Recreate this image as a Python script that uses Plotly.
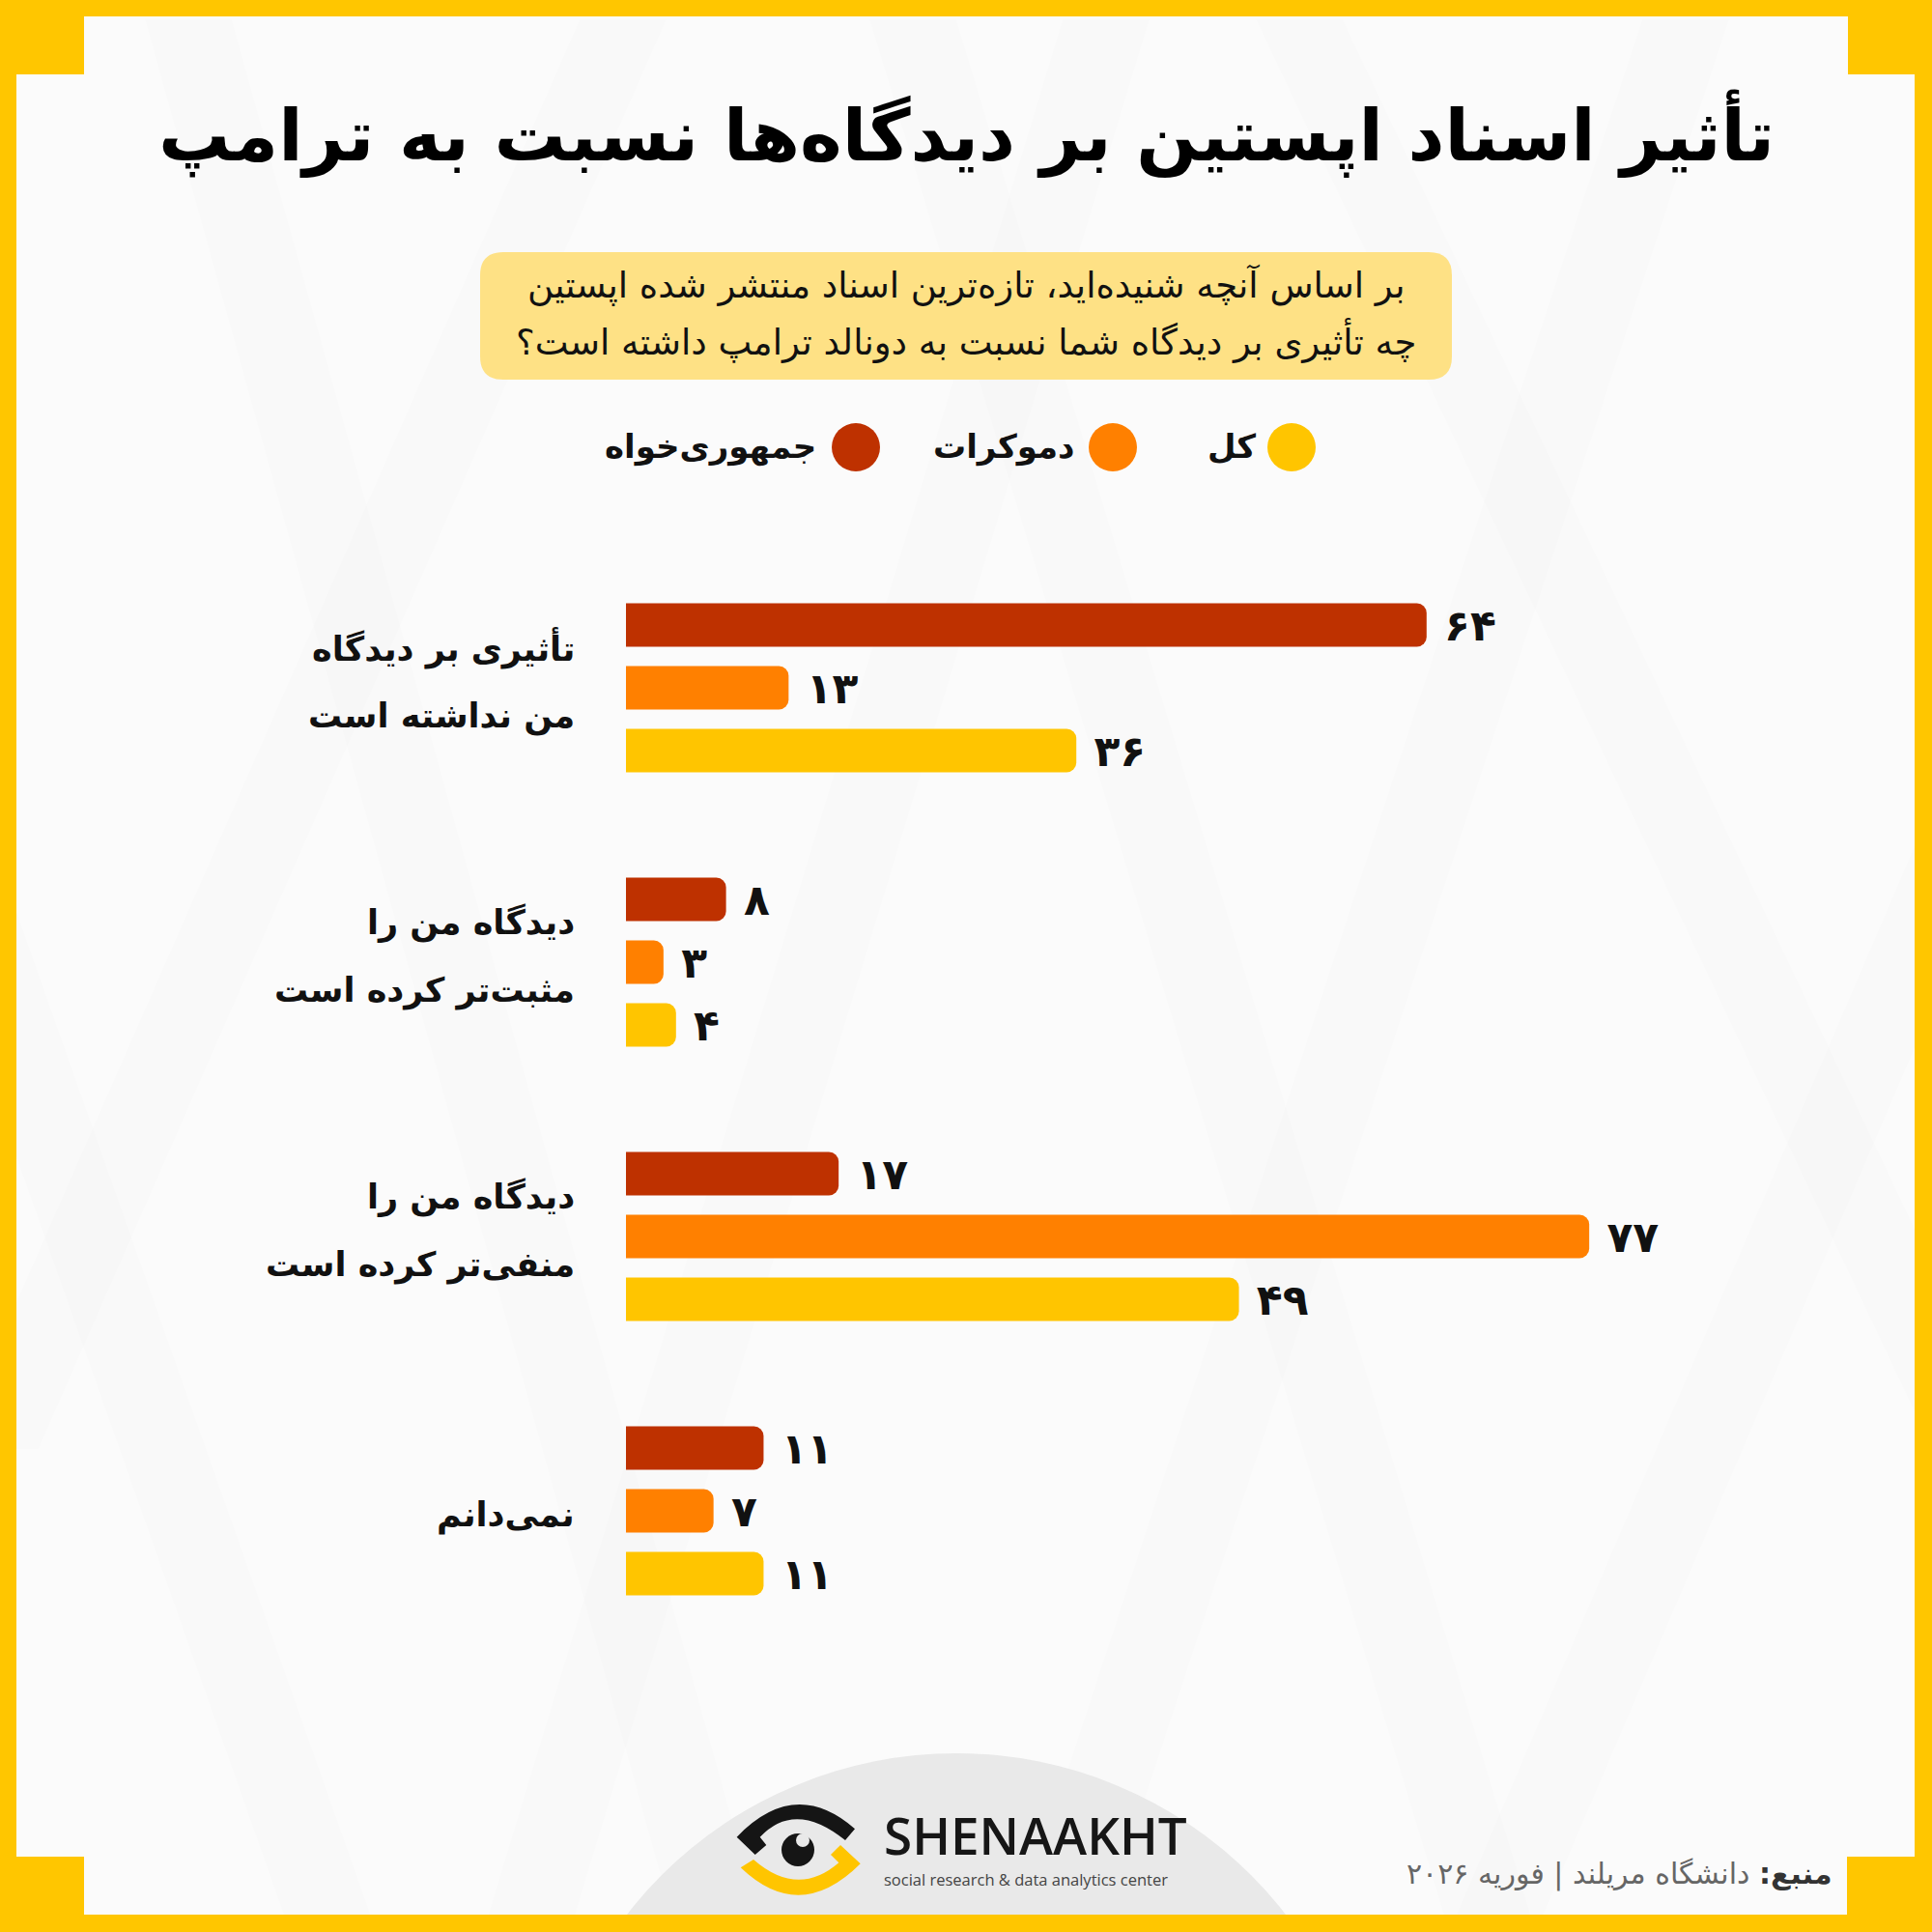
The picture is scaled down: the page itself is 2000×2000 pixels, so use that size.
import plotly.graph_objects as go

# ---------------- data ----------------
categories = [
    "تأثیری بر دیدگاه<br>من نداشته است",
    "دیدگاه من را<br>مثبت‌تر کرده است",
    "دیدگاه من را<br>منفی‌تر کرده است",
    "نمی‌دانم",
]
republicans = [64, 8, 17, 11]
democrats = [13, 3, 77, 7]
total = [36, 4, 49, 11]
series_names = ["جمهوری‌خواه", "دموکرات", "کل"]

title_text = "تأثیر اسناد اپستین بر دیدگاه‌ها نسبت به ترامپ"
question_lines = [
    "بر اساس آنچه شنیده‌اید، تازه‌ترین اسناد منتشر شده اپستین",
    "چه تأثیری بر دیدگاه شما نسبت به دونالد ترامپ داشته است؟",
]
source_bold = "منبع:"
source_rest = "دانشگاه مریلند | فوریه ۲۰۲۶"

# ---------------- style ----------------
RED = "#BE3100"
ORANGE = "#FF8000"
YELLOW = "#FFC500"
FRAME = "#FFC600"
BG = "#FBFBFB"
FA_FONT = "DejaVu Sans"

W = H = 2000
PL, PR, PT, PB = 648, 1900, 570, 1706


def px(x):
    return (x - PL) / (PR - PL)


def py(y):
    return (PB - y) / (PB - PT)


def fa_digits(n):
    return str(n).translate(str.maketrans("0123456789", "۰۱۲۳۴۵۶۷۸۹"))


fig = go.Figure()
for vals, col, nm in zip([republicans, democrats, total], [RED, ORANGE, YELLOW], series_names):
    fig.add_trace(go.Bar(
        y=categories, x=vals, orientation="h", name=nm,
        marker=dict(color=col, cornerradius=10, line=dict(width=0)),
        text=["\u00a0" + fa_digits(v) for v in vals],
        textposition="outside", textangle=0, constraintext="none",
        textfont=dict(family=FA_FONT, size=44, color="#111111", weight="bold"),
        cliponaxis=False, showlegend=False, hoverinfo="skip",
    ))

shapes = []


def rect(x0, y0, x1, y1, color, layer="above"):
    shapes.append(dict(type="rect", xref="paper", yref="paper",
                       x0=px(x0), x1=px(x1), y0=py(y1), y1=py(y0),
                       fillcolor=color, line=dict(width=0), layer=layer))


def poly(points, color, layer="below"):
    d = "M " + " L ".join(f"{px(x):.5f},{py(y):.5f}" for x, y in points) + " Z"
    shapes.append(dict(type="path", xref="paper", yref="paper", path=d,
                       fillcolor=color, line=dict(width=0), layer=layer))


# faint diagonal background bands
band = "rgba(0,0,0,0.009)"
for (xa, ya, xb, yb) in [(150, 20, 700, 2000), (-300, 300, 300, 2000), (900, 20, 1500, 2000),
                         (1300, 20, 2000, 1500)]:
    w = 90
    poly([(xa, ya), (xa + w, ya), (xb + w, yb), (xb, yb)], band)
for (xa, ya, xb, yb) in [(1100, 20, 500, 2000), (1700, 20, 1050, 2000), (600, 20, -50, 1500),
                         (2100, 600, 1500, 2000)]:
    w = 90
    poly([(xa, ya), (xa + w, ya), (xb + w, yb), (xb, yb)], band)

# grey dome behind logo
cx, cy, r = 990, 2247, 432
shapes.append(dict(type="circle", xref="paper", yref="paper",
                   x0=px(cx - r), x1=px(cx + r), y0=py(cy + r), y1=py(cy - r),
                   fillcolor="#E9E9E9", line=dict(width=0), layer="below"))

# question box
shapes.append(dict(type="path", xref="paper", yref="paper", layer="below",
                   fillcolor="#FEE185", line=dict(width=0),
                   path=(lambda x0, y0, x1, y1, rr: (
                       f"M {px(x0+rr)},{py(y0)} L {px(x1-rr)},{py(y0)} "
                       f"Q {px(x1)},{py(y0)} {px(x1)},{py(y0+rr)} L {px(x1)},{py(y1-rr)} "
                       f"Q {px(x1)},{py(y1)} {px(x1-rr)},{py(y1)} L {px(x0+rr)},{py(y1)} "
                       f"Q {px(x0)},{py(y1)} {px(x0)},{py(y1-rr)} L {px(x0)},{py(y0+rr)} "
                       f"Q {px(x0)},{py(y0)} {px(x0+rr)},{py(y0)} Z"))(497, 261, 1503, 393, 24)))

# frame
rect(0, 0, 2000, 17, FRAME)
rect(0, 1982, 2000, 2000, FRAME)
rect(0, 0, 17, 2000, FRAME)
rect(1982, 0, 2000, 2000, FRAME)
rect(0, 0, 87, 77, FRAME)
rect(1913, 0, 2000, 77, FRAME)
rect(0, 1922, 87, 2000, FRAME)
rect(1912, 1922, 2000, 2000, FRAME)

# legend circles
for cxl, col in [(1337, YELLOW), (1152, ORANGE), (886, RED)]:
    rr = 25
    shapes.append(dict(type="circle", xref="paper", yref="paper",
                       x0=px(cxl - rr), x1=px(cxl + rr), y0=py(463 + rr), y1=py(463 - rr),
                       fillcolor=col, line=dict(width=0)))


# logo eye
def pathq(cmds, color):
    out = []
    for c in cmds:
        if c[0] in "ML":
            out.append(f"{c[0]} {px(c[1]):.5f},{py(c[2]):.5f}")
        elif c[0] == "Q":
            out.append(f"Q {px(c[1]):.5f},{py(c[2]):.5f} {px(c[3]):.5f},{py(c[4]):.5f}")
    shapes.append(dict(type="path", xref="paper", yref="paper", path=" ".join(out) + " Z",
                       fillcolor=color, line=dict(width=0)))


pathq([("M", 762.7, 1901.7), ("Q", 823, 1839, 885, 1893.3), ("L", 875, 1905),
       ("Q", 823, 1863, 786.7, 1901.7), ("L", 793.3, 1910), ("L", 781.7, 1920)], "#151515")
pathq([("M", 766.7, 1933.3), ("Q", 828, 1992, 890.7, 1929.3), ("L", 870, 1910),
       ("L", 860, 1920), ("L", 868.3, 1928.3), ("Q", 826, 1965, 780, 1925)], YELLOW)
shapes.append(dict(type="circle", xref="paper", yref="paper",
                   x0=px(826 - 17), x1=px(826 + 17), y0=py(1915 + 17), y1=py(1915 - 17),
                   fillcolor="#151515", line=dict(width=0)))
shapes.append(dict(type="circle", xref="paper", yref="paper",
                   x0=px(831 - 7), x1=px(831 + 7), y0=py(1905 + 7), y1=py(1905 - 7),
                   fillcolor="#E9E9E9", line=dict(width=0)))

annotations = []


def ann(text, x, y, size, color="#000", xanchor="center", weight="normal", family=FA_FONT, **kw):
    annotations.append(dict(text=text, x=px(x), y=py(y), xref="paper", yref="paper",
                            xanchor=xanchor, yanchor="middle", showarrow=False,
                            font=dict(family=family, size=size, color=color, weight=weight), **kw))


ann(title_text, 1000, 138, 74, weight="bold")
ann(question_lines[0], 1000, 295, 37, color="#111")
ann(question_lines[1], 1000, 353, 37, color="#111")

for txt, xr in zip(["کل", "دموکرات", "جمهوری‌خواه"], [1302, 1115, 847]):
    ann(txt, xr, 462, 34, xanchor="right", weight="bold", color="#111")

# category labels placed through the y axis
for cat in categories:
    lines = cat.split("<br>")
    shifts = [-4] if len(lines) == 1 else [41, -29]
    for ln, sh in zip(lines, shifts):
        annotations.append(dict(text=ln, x=px(597), xref="paper", y=cat, yref="y",
                                xanchor="right", yanchor="middle", yshift=sh, showarrow=False,
                                font=dict(family=FA_FONT, size=35, color="#111", weight="bold")))

ann("SHENAAKHT", 913, 1899, 53, color="#161616", xanchor="left", weight=600, family="Open Sans")
ann("social research & data analytics center", 913, 1945, 16.5, color="#444",
    xanchor="left", family="Open Sans")
ann(f"<b>{source_bold}</b> <span style='color:#666'>{source_rest}</span>", 1899, 1940, 30,
    color="#333", xanchor="right")

fig.update_layout(
    width=W, height=H,
    margin=dict(l=PL, r=W - PR, t=PT, b=H - PB, pad=0),
    paper_bgcolor=BG, plot_bgcolor="rgba(0,0,0,0)",
    barmode="group", bargap=0.3134, bargroupgap=0.3077,
    xaxis=dict(range=[0, (PR - PL) / 12.95], visible=False, fixedrange=True),
    yaxis=dict(categoryorder="array", categoryarray=categories, autorange="reversed",
               showticklabels=False, showgrid=False, zeroline=False, showline=False, ticks=""),
    shapes=shapes, annotations=annotations, showlegend=False,
)

fig.write_html("out.html")
